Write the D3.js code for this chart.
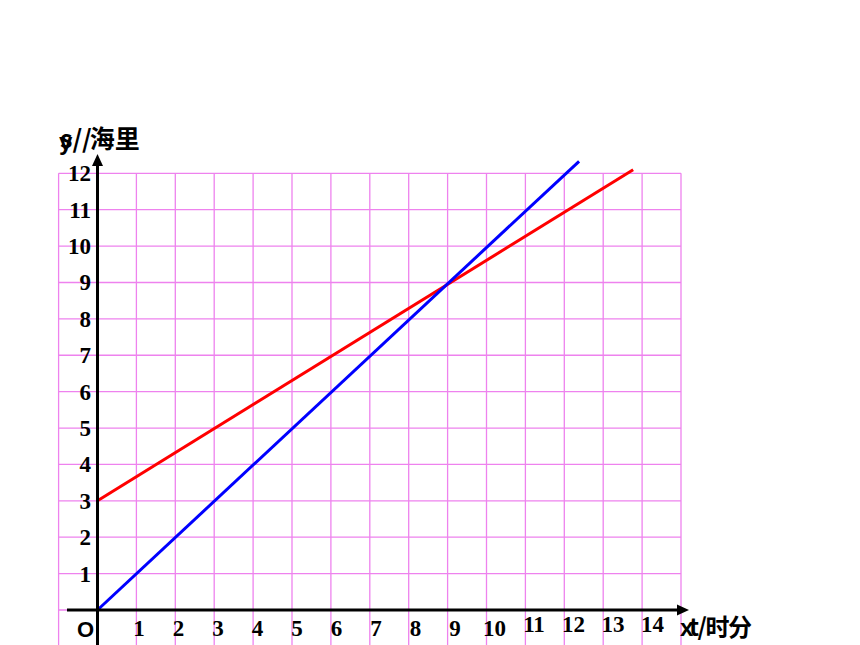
<!DOCTYPE html>
<html lang="zh">
<head>
<meta charset="UTF-8">
<title>s-t</title>
<script src="https://cdn.jsdelivr.net/npm/d3@7"></script>
<style>
  body { margin: 0; background: #fff; }
  svg { display: block; }
</style>
</head>
<body>
<div id="chart"></div>
<script>
// 数据
var xTicks = [1, 2, 3, 4, 5, 6, 7, 8, 9, 10, 11, 12, 13, 14];
var yTicks = [1, 2, 3, 4, 5, 6, 7, 8, 9, 10, 11, 12];
var gridX = [-1, 0, 1, 2, 3, 4, 5, 6, 7, 8, 9, 10, 11, 12, 13, 14, 15];
var gridY = [0, 1, 2, 3, 4, 5, 6, 7, 8, 9, 10, 11, 12];
var blueLine = [[0, 0], [12.38, 12.33]];
var redLine = [[0, 3], [13.77, 12.1]];

var W = 860, H = 645;
var svg = d3.select('#chart').append('svg')
    .attr('width', W).attr('height', H);

var x = d3.scaleLinear().domain([0, 15]).range([97.5, 681]);
var y = d3.scaleLinear().domain([0, 12]).range([610, 173.3]);

// 网格
var grid = svg.append('g').attr('stroke', '#ee82ee').attr('stroke-width', 1.3);
grid.selectAll('line.v').data(gridX).enter().append('line')
    .attr('class', 'v')
    .attr('x1', d => x(d)).attr('x2', d => x(d))
    .attr('y1', y(12)).attr('y2', H);
grid.selectAll('line.h').data(gridY).enter().append('line')
    .attr('class', 'h')
    .attr('x1', x(-1)).attr('x2', x(15))
    .attr('y1', d => y(d)).attr('y2', d => y(d));

// 直线
var line = d3.line().x(d => x(d[0])).y(d => y(d[1]));
svg.append('path').datum(redLine).attr('d', line)
    .attr('fill', 'none').attr('stroke', '#ff0000').attr('stroke-width', 3);
svg.append('path').datum(blueLine).attr('d', line)
    .attr('fill', 'none').attr('stroke', '#0000ff').attr('stroke-width', 3);

// 坐标轴
var ax = svg.append('g');
ax.append('line').attr('x1', 67).attr('x2', 680).attr('y1', y(0)).attr('y2', y(0))
    .attr('stroke', '#000').attr('stroke-width', 3);
ax.append('path').attr('d', 'M689,' + y(0) + 'L677,' + (y(0) - 5.5) + 'L677,' + (y(0) + 5.5) + 'Z')
    .attr('fill', '#000');
ax.append('line').attr('x1', x(0)).attr('x2', x(0)).attr('y1', H).attr('y2', 164)
    .attr('stroke', '#000').attr('stroke-width', 3);
ax.append('path').attr('d', 'M' + x(0) + ',154L' + (x(0) - 5.5) + ',166L' + (x(0) + 5.5) + ',166Z')
    .attr('fill', '#000');

// 刻度文字
var serif = '"Liberation Serif", "Times New Roman", serif';
svg.selectAll('text.xt').data(xTicks).enter().append('text')
    .attr('class', 'xt')
    .attr('x', d => x(d) + 2 + d * 0.6)
    .attr('y', d => d > 10 ? 632 : 636)
    .attr('text-anchor', 'middle')
    .attr('font-family', serif).attr('font-weight', 'bold').attr('font-size', 23)
    .text(d => d);
svg.selectAll('text.yt').data(yTicks).enter().append('text')
    .attr('class', 'yt')
    .attr('x', 91)
    .attr('y', d => y(d) + 8)
    .attr('text-anchor', 'end')
    .attr('font-family', serif).attr('font-weight', 'bold').attr('font-size', 23)
    .text(d => d);

var sans = '"Liberation Sans", Arial, sans-serif';
var cjk = '"Noto Sans CJK SC", sans-serif';
svg.append('text').attr('x', 77).attr('y', 637)
    .attr('font-family', sans).attr('font-weight', 'bold').attr('font-size', 22).text('O');

// 轴标题(原图中 y 与 s 重叠)
svg.append('text').attr('x', 59).attr('y', 150)
    .attr('font-family', sans).attr('font-weight', 'bold').attr('font-size', 24).text('y');
var st = svg.append('text').attr('x', 60).attr('y', 148)
    .attr('font-family', cjk).attr('font-weight', 'bold').attr('font-size', 25);
st.append('tspan').text('s//');
st.append('tspan').attr('dx', -2).text('海里');

svg.append('text').attr('x', 680).attr('y', 636)
    .attr('font-family', sans).attr('font-weight', 'bold').attr('font-size', 24).text('x');
svg.append('text').attr('x', 689).attr('y', 636)
    .attr('font-family', cjk).attr('font-weight', 'bold').attr('font-size', 24)
    .attr('letter-spacing', -1.5).text('t/时分');
</script>
</body>
</html>
